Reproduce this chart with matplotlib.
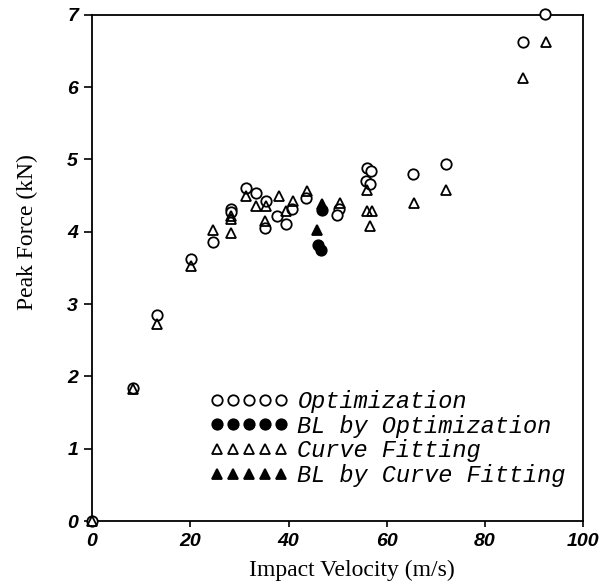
import matplotlib
matplotlib.use("Agg")
import matplotlib.pyplot as plt

# Optimization (open circles)
opt_x = [0, 8.3, 13.3, 20.2, 24.6, 28.2, 28.2, 31.3, 33.4, 35.4, 35.3, 37.7, 39.4,
         40.8, 43.6, 50.2, 49.8, 55.9, 56.7, 55.8, 56.6, 65.4, 72.1, 87.8, 92.3]
opt_y = [0, 1.84, 2.85, 3.62, 3.86, 4.31, 4.27, 4.61, 4.54, 4.42, 4.05, 4.22, 4.10,
         4.32, 4.46, 4.31, 4.23, 4.88, 4.84, 4.70, 4.66, 4.80, 4.94, 6.62, 7.01]

# BL by Optimization (filled circles)
blopt_x = [46.8, 46.0, 46.6]
blopt_y = [4.30, 3.81, 3.75]

# Curve Fitting (open triangles)
cf_x = [0, 8.3, 13.3, 20.2, 24.6, 28.3, 28.2, 28.2, 31.3, 33.4, 35.5, 35.3, 38.0,
        39.5, 41.0, 43.7, 50.4, 56.0, 56.0, 57.0, 56.6, 65.6, 72.1, 87.7, 92.4]
cf_y = [0, 1.82, 2.73, 3.52, 4.02, 3.98, 4.21, 4.17, 4.50, 4.35, 4.35, 4.15, 4.50,
        4.28, 4.42, 4.56, 4.40, 4.58, 4.28, 4.29, 4.08, 4.40, 4.58, 6.12, 6.62]

# BL by Curve Fitting (filled triangles)
blcf_x = [46.8, 45.7]
blcf_y = [4.38, 4.02]

labels = ["Optimization", "BL by Optimization", "Curve Fitting", "BL by Curve Fitting"]
x_ticks = [0, 20, 40, 60, 80, 100]
y_ticks = [0, 1, 2, 3, 4, 5, 6, 7]

fig = plt.figure(figsize=(6.03, 5.85), dpi=100)
ax = fig.add_axes([92 / 603, 1 - 521 / 585, 491.3 / 603, 506.3 / 585])

ms = 7.5
mew = 1.3
h1, = ax.plot(opt_x, opt_y, linestyle="none", marker="o", ms=ms, mfc="white",
              mec="black", mew=mew, clip_on=False, zorder=3)
h2, = ax.plot(blopt_x, blopt_y, linestyle="none", marker="o", ms=ms, mfc="black",
              mec="black", mew=mew, clip_on=False, zorder=4)
h3, = ax.plot(cf_x, cf_y, linestyle="none", marker="^", ms=ms, mfc="none",
              mec="black", mew=mew, clip_on=False, zorder=3)
h4, = ax.plot(blcf_x, blcf_y, linestyle="none", marker="^", ms=ms, mfc="black",
              mec="black", mew=mew, clip_on=False, zorder=4)

ax.set_xlim(0, 100)
ax.set_ylim(0, 7)
ax.set_xticks(x_ticks)
ax.set_yticks(y_ticks)

tick_font = dict(family="Liberation Sans", weight="bold", style="italic", size=14)
ax.set_xticklabels([str(v) for v in x_ticks], fontdict=tick_font)
ax.set_yticklabels([str(v) for v in y_ticks], fontdict=tick_font)
ax.tick_params(axis="x", direction="out", length=4, width=1.2, pad=5)
ax.tick_params(axis="y", direction="out", length=6, width=1.2, pad=4)

for s in ax.spines.values():
    s.set_linewidth(1.3)

lab_font = dict(family="Liberation Serif", size=17)
ax.set_xlabel("Impact Velocity (m/s)", fontdict=lab_font)
ax.set_ylabel("Peak Force (kN)", fontdict=lab_font)
ax.xaxis.set_label_coords((352 - 92) / 491.3, -(560 - 521) / 506.3)
ax.yaxis.set_label_coords(-(92 - 38) / 491.3, (521 - 232) / 506.3)

leg = ax.legend([h1, h2, h3, h4], labels, numpoints=5, frameon=False,
                loc="upper left", bbox_to_anchor=((210 - 92) / 491.3, (521 - 390) / 506.3),
                borderaxespad=0, borderpad=0, handlelength=3.3, handletextpad=0.4,
                labelspacing=0.07,
                prop=dict(family="Liberation Mono", style="italic", size=17))

fig.savefig("out.png", dpi=100)
